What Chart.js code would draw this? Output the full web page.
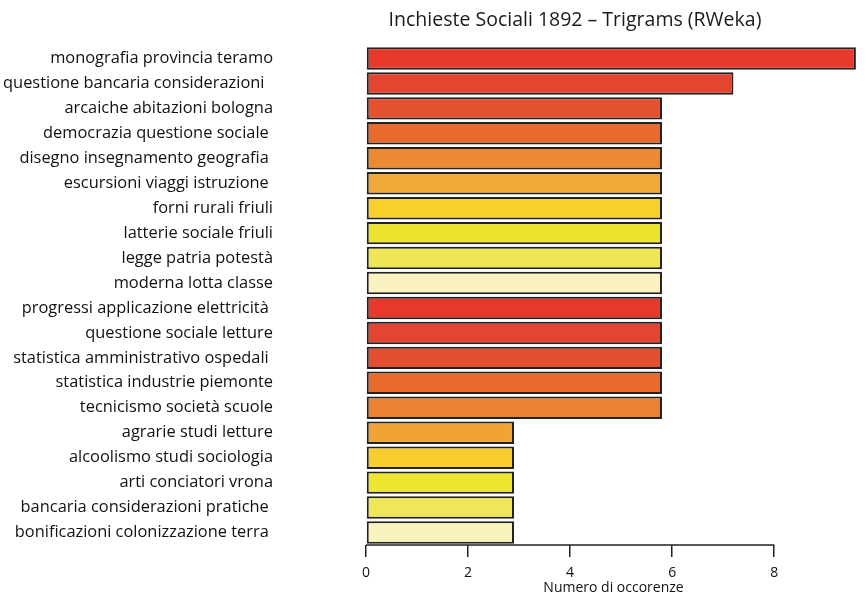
<!DOCTYPE html>
<html>
<head>
<meta charset="utf-8">
<script src="https://cdn.jsdelivr.net/npm/chart.js@4/dist/chart.umd.min.js"></script>
<style>
  html, body { margin: 0; padding: 0; background: #fff; }
  #wrap { width: 866px; height: 595px; }
</style>
</head>
<body>
<div id="wrap"><canvas id="chart"></canvas></div>
<script>
// ==============================
// DATA
// ==============================

const chartTitle = 'Inchieste Sociali 1892 \u2013 Trigrams (RWeka)';
const axisTitle = 'Numero di occorenze';

const trigrams = [
    'monografia provincia teramo',
    'questione bancaria considerazioni  ',
    'arcaiche abitazioni bologna',
    'democrazia questione sociale ',
    'disegno insegnamento geografia ',
    'escursioni viaggi istruzione ',
    'forni rurali friuli',
    'latterie sociale friuli',
    'legge patria potest\u00e0',
    'moderna lotta classe',
    'progressi applicazione elettricit\u00e0 ',
    'questione sociale letture',
    'statistica amministrativo ospedali ',
    'statistica industrie piemonte',
    'tecnicismo societ\u00e0 scuole',
    'agrarie studi letture',
    'alcoolismo studi sociologia',
    'arti conciatori vrona',
    'bancaria considerazioni pratiche ',
    'bonificazioni colonizzazione terra '
];

const occorrenze = [9.6, 7.2, 5.8, 5.8, 5.8, 5.8, 5.8, 5.8, 5.8, 5.8,
                    5.8, 5.8, 5.8, 5.8, 5.8, 2.9, 2.9, 2.9, 2.9, 2.9];

// heat colours, scanned look (repeats every 10 bars)
const barColors = [
    '#e8392d', '#e44531', '#e65130', '#e96a2f', '#ec8a33',
    '#f0a836', '#f8d12d', '#ece32e', '#efe656', '#fbf2c0',
    '#e8392d', '#e34532', '#e34f30', '#e96b2d', '#eb8231',
    '#f0a435', '#f9cd2d', '#eee530', '#efe65a', '#fbf3bd'
];

const xTicks = [0, 2, 4, 6, 8];

// ==============================
// PLUGINS
// ==============================

const FONT = '"Open Sans", "Noto Sans", sans-serif';

// axis line only from first to last tick, plus the title
const extras = {
    id: 'extras',
    afterDraw(chart) {
        const ctx = chart.ctx;
        const x = chart.scales.x;
        const y = chart.chartArea.bottom;
        ctx.save();
        ctx.strokeStyle = '#222';
        ctx.lineWidth = 1.5;
        ctx.beginPath();
        ctx.moveTo(x.getPixelForValue(xTicks[0]), y);
        ctx.lineTo(x.getPixelForValue(xTicks[xTicks.length - 1]), y);
        ctx.stroke();

        ctx.fillStyle = '#1a1a1a';
        ctx.font = '19.5px ' + FONT;
        ctx.textAlign = 'center';
        ctx.textBaseline = 'middle';
        ctx.fillText(chartTitle, 575, 20);
        ctx.restore();
    }
};

// ==============================
// CHART
// ==============================

new Chart(document.getElementById('chart'), {
    type: 'bar',
    data: {
        labels: trigrams,
        datasets: [{
            data: occorrenze,
            backgroundColor: barColors,
            borderColor: '#222',
            borderWidth: 2,
            borderSkipped: false,
            barPercentage: 0.9,
            categoryPercentage: 1
        }]
    },
    options: {
        indexAxis: 'y',
        responsive: true,
        maintainAspectRatio: false,
        animation: false,
        layout: { padding: { top: 46, right: 5, bottom: 0, left: 0 } },
        plugins: {
            legend: { display: false },
            tooltip: { enabled: false },
            title: { display: false }
        },
        scales: {
            x: {
                min: 0,
                max: 9.7,
                afterBuildTicks: s => { s.ticks = xTicks.map(v => ({ value: v })); },
                afterFit: s => { s.height = 50; s.paddingLeft = 0; s.paddingRight = 0; },
                border: { display: false },
                grid: {
                    drawOnChartArea: false,
                    drawTicks: true,
                    tickLength: 12,
                    color: '#222',
                    lineWidth: 1.5
                },
                ticks: {
                    color: '#111',
                    font: { family: FONT, size: 14 },
                    padding: 8,
                    maxRotation: 0
                },
                title: {
                    display: true,
                    text: axisTitle,
                    color: '#111',
                    font: { family: FONT, size: 14 },
                    padding: { top: 0, bottom: -1 }
                }
            },
            y: {
                afterFit: s => { s.width = 366; s.paddingTop = 0; s.paddingBottom = 0; },
                border: { display: false },
                grid: { display: false },
                ticks: {
                    color: '#111',
                    font: { family: FONT, size: 16.4 },
                    padding: 85,
                    autoSkip: false
                }
            }
        }
    },
    plugins: [extras]
});
</script>
</body>
</html>
